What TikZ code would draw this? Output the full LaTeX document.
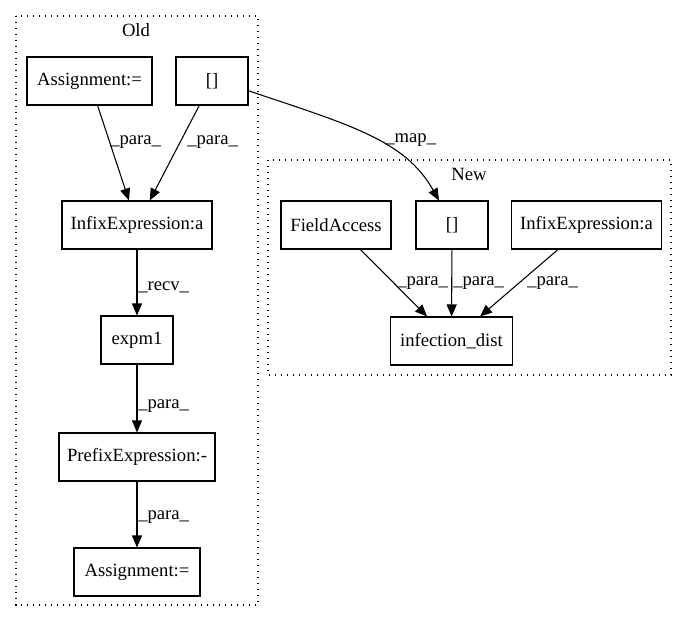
\documentclass[tikz,border=0pt]{standalone}
\usepackage{fontspec}
\setmainfont{Liberation Serif}
\usetikzlibrary{arrows.meta,calc}
\begin{document}
\begin{tikzpicture}[x=0.75pt,y=-0.75pt,
  every node/.style={font=\fontsize{14}{16}\selectfont},
  box/.style={draw,line width=0.8pt,rectangle,inner sep=0pt,minimum height=36pt},
  lab/.style={anchor=west,inner sep=0pt},
  edge/.style={line width=0.8pt,-{Triangle[length=9pt,width=7.5pt]}},
  cluster/.style={line width=0.9pt,dash pattern=on 0.9pt off 3.6pt}]
\useasboundingbox (0,0) rectangle (688,624);
% clusters
\draw[cluster] (16,16) rectangle (258,605);
\node (oldlab) at (136,30) {Old};
\draw[cluster] (268,160) rectangle (671,375);
\node (newlab) at (469,174) {New};
% old nodes
\node[box,minimum width=93.75pt] (asg1) at (89.5,81) {Assignment:=};
\node[box,minimum width=54pt] (oldbr) at (212,81) {[]};
\node[box,minimum width=112.5pt] (infold) at (137,225) {InfixExpression:a};
\node[box,minimum width=54pt] (expm) at (137,340) {expm1};
\node[box,minimum width=117pt] (pref) at (137,457) {PrefixExpression:-};
\node[box,minimum width=94.5pt] (asg2) at (137,572) {Assignment:=};
% new nodes
\node[box,minimum width=82.5pt] (fa) at (336,225) {FieldAccess};
\node[box,minimum width=54pt] (newbr) at (452,225) {[]};
\node[box,minimum width=112pt] (infnew) at (586.5,225) {InfixExpression:a};
\node[box,minimum width=91pt] (inf) at (451.5,341) {infection\_dist};
% edges
\draw[edge] (asg1) -- (infold);
\draw[edge] (oldbr) -- (infold);
\draw[edge] (infold) -- (expm);
\draw[edge] (expm) -- (pref);
\draw[edge] (pref) -- (asg2);
\draw[edge] (oldbr.-15.5) .. controls (350,125) and (405,140) .. (newbr.118);
\draw[edge] (fa) -- (inf);
\draw[edge] (newbr) -- (inf);
\draw[edge] (infnew) -- (inf);
% labels
\node[lab] (l1) at (110,142) {\_para\_};
\node[lab] (l2) at (187,142) {\_para\_};
\node[lab] (l3) at (138,287) {\_recv\_};
\node[lab] (l4) at (138,406) {\_para\_};
\node[lab] (l5) at (138,517) {\_para\_};
\node[lab] (l6) at (385,140) {\_map\_};
\node[lab] (l7) at (397,283) {\_para\_};
\node[lab] (l8) at (453,283) {\_para\_};
\node[lab] (l9) at (527,283) {\_para\_};
\end{tikzpicture}
\end{document}
